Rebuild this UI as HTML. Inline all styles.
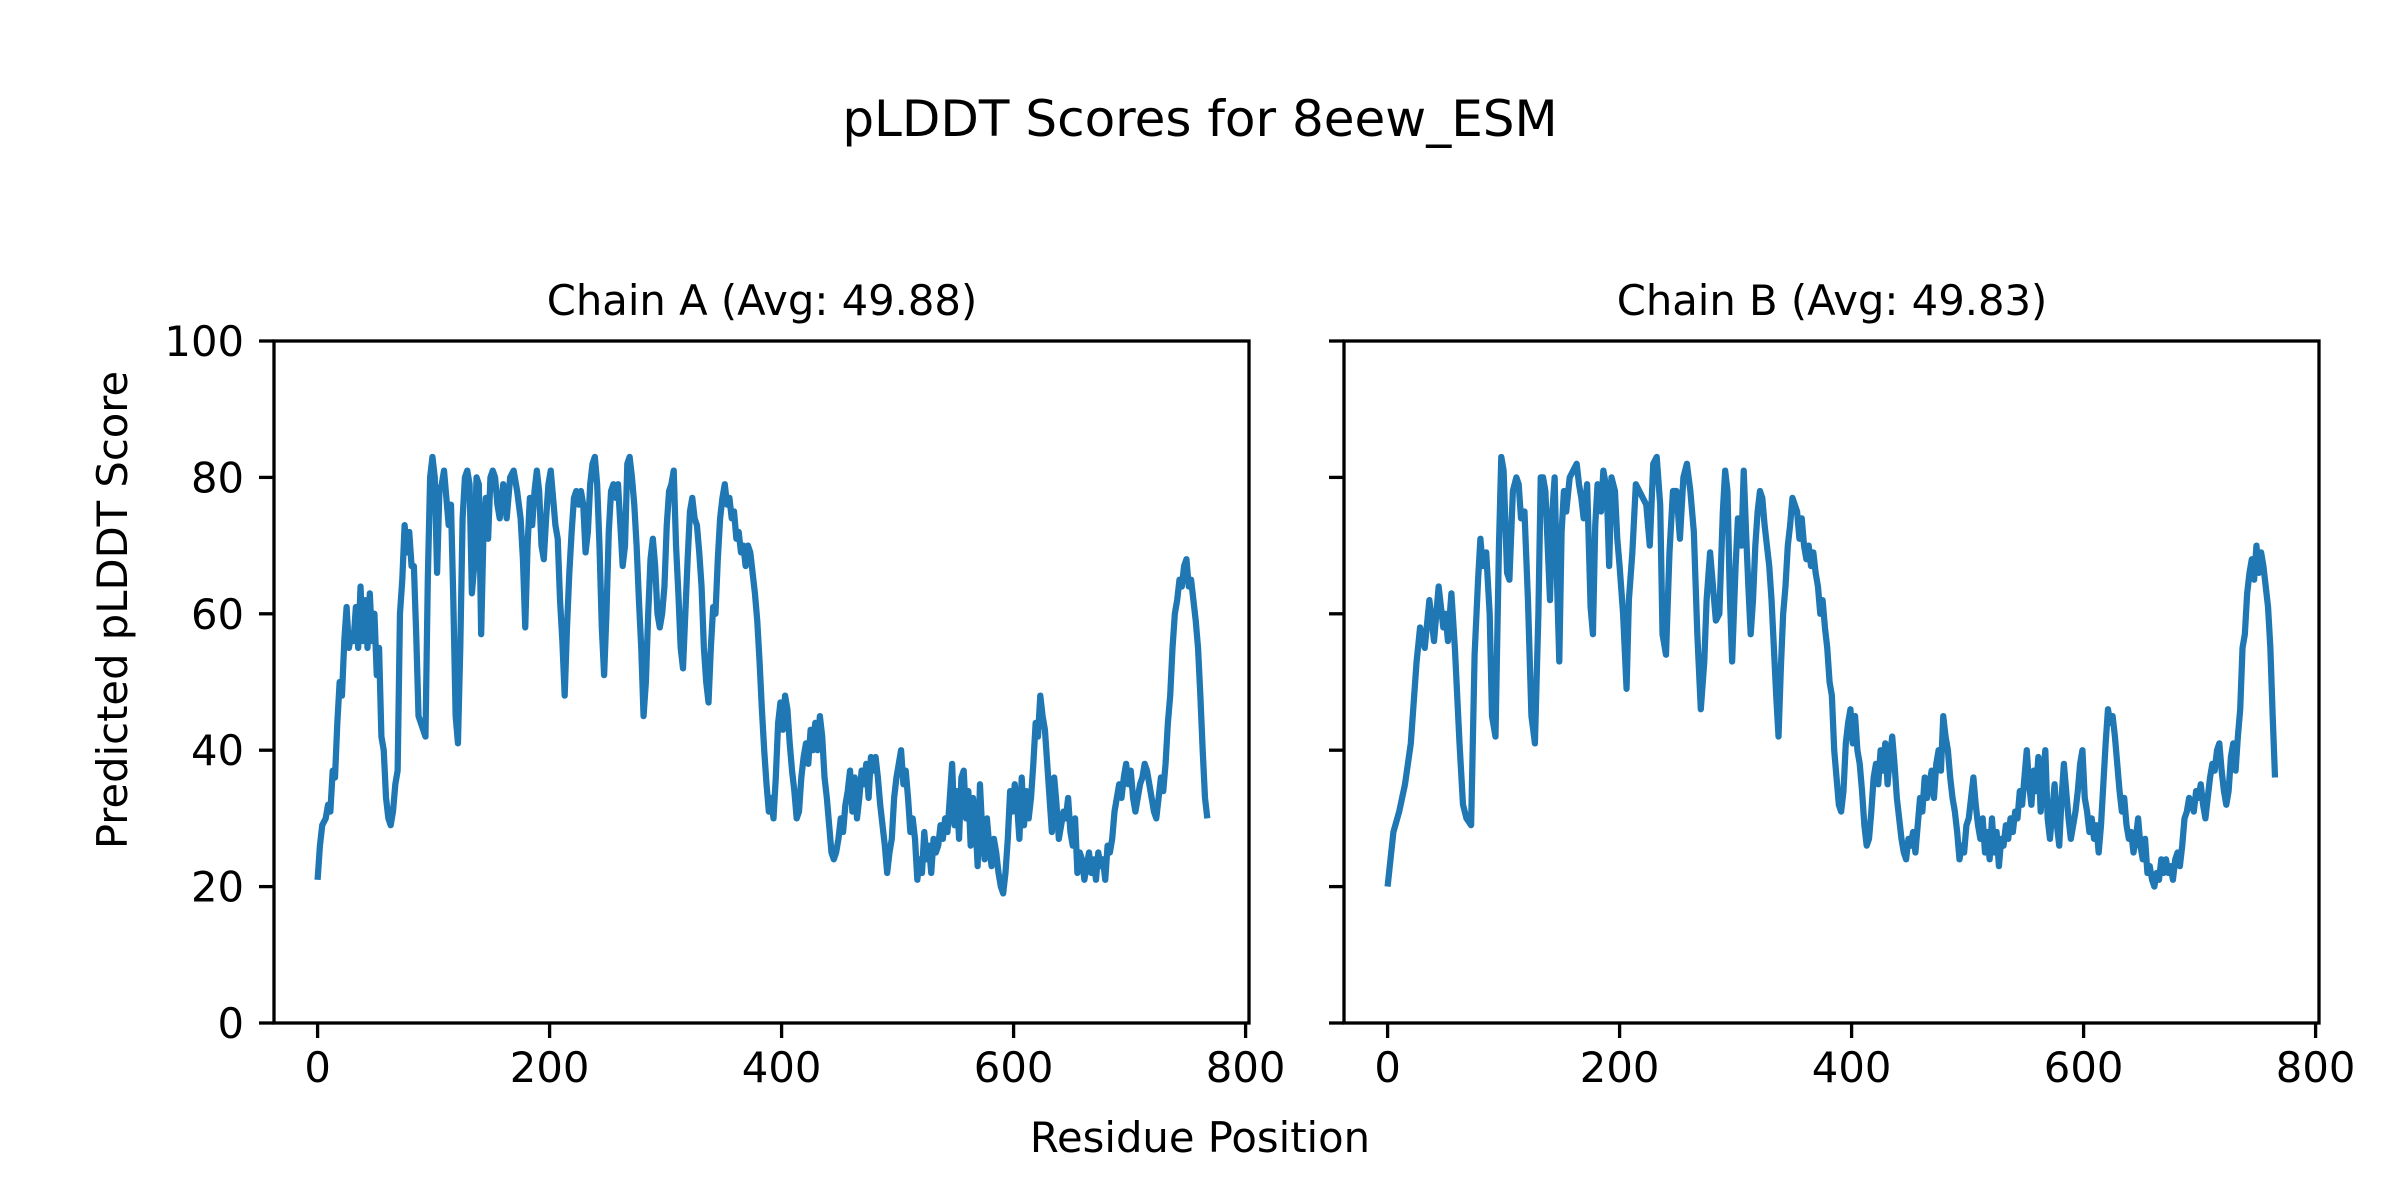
<!DOCTYPE html>
<html><head><meta charset="utf-8"><style>
html,body{margin:0;padding:0;background:#fff;}
svg{display:block;}
text{font-family:"DejaVu Sans","Liberation Sans",sans-serif;fill:#000;}
</style></head><body>
<svg width="2400" height="1200" viewBox="0 0 2400 1200" xmlns="http://www.w3.org/2000/svg">
<rect width="2400" height="1200" fill="#fff"/>
<text x="1200" y="136" font-size="50" text-anchor="middle">pLDDT Scores for 8eew_ESM</text>
<text x="762" y="315" font-size="41.7" text-anchor="middle">Chain A (Avg: 49.88)</text>
<text x="1832" y="315" font-size="41.7" text-anchor="middle">Chain B (Avg: 49.83)</text>
<text x="1200" y="1152" font-size="41.7" text-anchor="middle">Residue Position</text>
<text transform="translate(127,610) rotate(-90)" font-size="41.7" text-anchor="middle">Predicted pLDDT Score</text>

<!-- series A -->
<g transform="matrix(1.16 0 0 -6.82 317.6 1023)">
<polyline fill="none" stroke="#1f77b4" stroke-width="6.25" stroke-linejoin="round" vector-effect="non-scaling-stroke" points="0,21 2,26 4,29 7,30 9,32 11,31 13,37 15,36 17,44 19,50 21,48 23,56 25,61 27,55 29,57 31,56 33,61 35,55 37,64 39,56 41,62 43,55 45,63 47,56 49,60 51,51 53,55 55,42 57,40 59,33 61,30 63,29 65,31 67,35 69,37 71,60 73,65 75,73 77,69 79,72 81,67 83,67 85,57 87,45 89,44 91,43 93,42 95,65 97,80 99,83 101,80 103,66 105,78 107,79 109,81 111,77 113,73 115,76 117,62 119,45 121,41 123,55 125,74 127,80 129,81 131,79 133,63 135,67 137,80 139,79 141,57 143,72 145,77 147,71 149,80 151,81 153,80 155,76 157,74 160,79 163,74 166,80 169,81 172,78 175,74 177,68 179,58 181,70 183,77 185,73 187,78 189,81 191,78 193,70 195,68 197,74 199,79 201,81 203,77 205,73 207,71 209,62 211,56 213,48 215,58 217,66 219,72 221,77 223,78 225,76 227,78 229,76 231,69 233,72 235,79 237,82 239,83 241,79 243,70 245,58 247,51 249,60 251,72 253,78 255,79 257,77 259,79 261,73 263,67 265,70 267,82 269,83 271,80 273,76 275,70 277,62 279,55 281,45 283,50 285,60 287,68 289,71 291,67 293,60 295,58 297,60 299,64 301,73 303,78 305,79 307,81 309,70 311,63 313,55 315,52 317,60 319,68 321,75 323,77 325,74 327,73 329,69 331,64 333,55 335,50 337,47 339,55 341,61 343,60 345,68 347,74 349,77 351,79 353,76 355,77 357,74 359,75 361,71 363,72 365,69 367,70 369,67 371,70 373,69 375,66 377,63 379,59 381,53 383,46 385,40 387,35 389,31 391,33 393,30 395,36 397,44 399,47 401,43 403,48 405,46 407,41 409,37 411,34 413,30 415,31 417,36 419,39 421,41 423,38 425,43 427,40 429,44 431,40 433,45 435,42 437,36 439,33 441,29 443,25 445,24 447,25 449,27 451,30 453,28 455,32 457,34 459,37 461,31 463,36 465,30 467,33 469,37 471,35 473,38 475,33 477,39 479,37 481,39 483,36 485,32 487,29 489,26 491,22 493,25 495,27 497,33 499,36 501,38 503,40 505,35 507,37 509,33 511,28 513,30 515,27 517,21 519,24 521,22 523,28 525,24 527,26 529,22 531,27 533,25 535,26 537,29 539,27 541,30 543,28 545,33 547,38 549,29 551,34 553,27 555,36 557,37 559,30 561,34 563,26 565,33 567,30 569,23 571,35 573,28 575,24 577,30 579,26 581,23 583,27 585,25 587,22 589,20 591,19 593,22 595,27 597,34 599,31 601,35 603,32 605,27 607,36 609,29 611,34 613,30 615,33 617,38 619,44 621,42 623,48 625,45 627,43 629,38 631,33 633,28 635,36 637,32 639,27 641,29 643,31 645,30 647,33 649,28 651,26 653,30 655,22 657,25 659,24 661,21 663,23 665,25 667,22 669,24 671,21 673,25 675,23 677,24 679,21 681,26 683,25 685,27 687,31 689,33 691,35 693,33 695,36 697,38 699,35 701,37 703,33 705,31 707,33 709,35 711,36 713,38 715,37 717,35 719,33 721,31 723,30 725,33 727,36 729,34 731,38 733,44 735,48 737,55 739,60 741,62 743,65 745,64 747,67 749,68 751,64 753,65 755,62 757,59 759,55 761,48 763,40 765,33 767,30"/>
</g>
<!-- series B -->
<g transform="matrix(1.16 0 0 -6.82 1387.6 1023)">
<polyline fill="none" stroke="#1f77b4" stroke-width="6.25" stroke-linejoin="round" vector-effect="non-scaling-stroke" points="0,20 5,28 10,31 15,35 20,41 25,53 28,58 32,55 36,62 40,56 44,64 48,58 50,60 52,56 55,63 58,55 62,41 65,32 68,30 72,29 75,54 78,65 80,71 82,67 85,69 88,60 90,45 93,42 96,70 98,83 100,81 103,66 105,65 108,78 111,80 113,79 115,74 118,75 121,62 124,45 127,41 130,60 132,80 134,80 136,78 138,70 140,62 142,75 144,80 146,65 148,53 150,72 152,78 154,75 157,80 160,81 163,82 165,79 167,77 169,74 172,79 175,61 177,57 179,73 181,79 184,75 186,81 189,78 191,67 193,80 196,78 198,71 200,67 203,60 206,49 208,62 211,69 214,79 217,78 220,77 223,76 226,70 229,82 232,83 235,76 237,57 240,54 243,69 246,78 249,78 252,71 255,80 258,82 261,78 264,72 267,57 270,46 273,53 275,62 278,69 280,65 283,59 286,60 289,75 291,81 293,78 295,63 297,53 300,67 302,74 305,70 307,81 309,72 311,64 313,57 315,62 317,70 319,75 321,78 323,77 325,73 327,70 329,67 331,62 333,55 335,48 337,42 339,52 341,60 343,64 345,70 347,73 349,77 351,76 353,75 355,71 357,74 359,70 361,68 363,70 365,67 367,69 369,66 371,64 373,60 375,62 377,58 379,55 381,50 383,48 385,40 387,36 389,32 391,31 393,34 395,41 397,44 399,46 401,41 403,45 405,40 407,38 409,34 411,29 413,26 415,27 417,31 419,36 421,38 423,35 425,40 427,37 429,41 431,35 433,39 435,42 437,38 439,33 441,30 443,27 445,25 447,24 449,27 451,26 453,28 455,25 457,29 459,33 461,31 463,36 465,33 467,35 469,37 471,33 473,38 475,40 477,37 479,45 481,42 483,40 485,36 487,33 489,31 491,28 493,24 495,26 497,25 499,29 501,30 503,33 505,36 507,32 509,29 511,27 513,30 515,25 517,28 519,24 521,30 523,25 525,28 527,23 529,27 531,26 533,29 535,27 537,30 539,28 541,31 543,30 545,34 547,32 549,36 551,40 553,35 555,32 557,37 559,34 561,39 563,31 565,36 567,40 569,30 571,27 573,31 575,35 577,29 579,26 581,33 583,38 585,34 587,30 589,27 591,29 593,31 595,34 597,38 599,40 601,33 603,31 605,28 607,30 609,27 611,29 613,25 615,29 617,35 619,41 621,46 623,44 625,45 627,42 629,38 631,34 633,31 635,33 637,29 639,27 641,28 643,25 645,27 647,30 649,26 651,24 653,27 655,22 657,23 659,21 661,20 663,22 665,21 667,24 669,22 671,24 673,22 675,23 677,21 679,24 681,25 683,23 685,26 687,30 689,31 691,33 693,32 695,31 697,34 699,33 701,35 703,32 705,30 707,33 709,36 711,38 713,37 715,40 717,41 719,37 721,34 723,32 725,34 727,39 729,41 731,37 733,42 735,46 737,55 739,57 741,63 743,66 745,68 747,65 749,70 751,66 753,69 755,67 757,64 759,61 761,55 763,45 765,36"/>
</g>

<rect x="274" y="341" width="975" height="682" fill="none" stroke="#000" stroke-width="3.3"/>
<rect x="1344" y="341" width="975" height="682" fill="none" stroke="#000" stroke-width="3.3"/>

<g stroke="#000" stroke-width="3.3">
<line x1="259" y1="1023" x2="274" y2="1023"/><line x1="259" y1="886.6" x2="274" y2="886.6"/><line x1="259" y1="750.2" x2="274" y2="750.2"/><line x1="259" y1="613.8" x2="274" y2="613.8"/><line x1="259" y1="477.4" x2="274" y2="477.4"/><line x1="259" y1="341" x2="274" y2="341"/>
<line x1="1329" y1="1023" x2="1344" y2="1023"/><line x1="1329" y1="886.6" x2="1344" y2="886.6"/><line x1="1329" y1="750.2" x2="1344" y2="750.2"/><line x1="1329" y1="613.8" x2="1344" y2="613.8"/><line x1="1329" y1="477.4" x2="1344" y2="477.4"/><line x1="1329" y1="341" x2="1344" y2="341"/>
<line x1="317.6" y1="1023" x2="317.6" y2="1038"/><line x1="549.6" y1="1023" x2="549.6" y2="1038"/><line x1="781.6" y1="1023" x2="781.6" y2="1038"/><line x1="1013.6" y1="1023" x2="1013.6" y2="1038"/><line x1="1245.6" y1="1023" x2="1245.6" y2="1038"/>
<line x1="1387.6" y1="1023" x2="1387.6" y2="1038"/><line x1="1619.6" y1="1023" x2="1619.6" y2="1038"/><line x1="1851.6" y1="1023" x2="1851.6" y2="1038"/><line x1="2083.6" y1="1023" x2="2083.6" y2="1038"/><line x1="2315.6" y1="1023" x2="2315.6" y2="1038"/>
</g>
<g font-size="41.7" text-anchor="end">
<text x="244" y="1038">0</text><text x="244" y="901.6">20</text><text x="244" y="765.2">40</text><text x="244" y="628.8">60</text><text x="244" y="492.4">80</text><text x="244" y="356">100</text>
</g>
<g font-size="41.7" text-anchor="middle">
<text x="317.6" y="1082">0</text><text x="549.6" y="1082">200</text><text x="781.6" y="1082">400</text><text x="1013.6" y="1082">600</text><text x="1245.6" y="1082">800</text>
<text x="1387.6" y="1082">0</text><text x="1619.6" y="1082">200</text><text x="1851.6" y="1082">400</text><text x="2083.6" y="1082">600</text><text x="2315.6" y="1082">800</text>
</g>
</svg>
</body></html>
